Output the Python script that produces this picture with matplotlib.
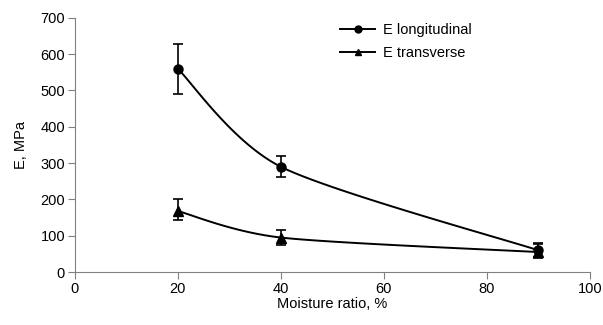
import matplotlib.pyplot as plt
import numpy as np

plt.rcParams['font.family'] = ['Liberation Sans', 'DejaVu Sans']

moisture = [20, 40, 90]
e_long = [560, 290, 60]
e_long_lo = [490, 262, 42]
e_long_hi = [627, 320, 80]
e_trans = [168, 95, 55]
e_trans_lo = [143, 75, 40]
e_trans_hi = [201, 116, 78]


def smooth(x, y, n=60, t=0.4):
    # cardinal spline like the spreadsheet "smoothed line"
    x = np.asarray(x, float)
    y = np.asarray(y, float)
    px = np.concatenate([[x[0]], x, [x[-1]]])
    py = np.concatenate([[y[0]], y, [y[-1]]])
    xs, ys = [], []
    for i in range(1, len(px) - 2):
        p0, p1, p2, p3 = [np.array([px[j], py[j]]) for j in (i - 1, i, i + 1, i + 2)]
        m1 = t * (p2 - p0)
        m2 = t * (p3 - p1)
        s = np.linspace(0, 1, n)[:, None]
        h00 = 2 * s**3 - 3 * s**2 + 1
        h10 = s**3 - 2 * s**2 + s
        h01 = -2 * s**3 + 3 * s**2
        h11 = s**3 - s**2
        pts = h00 * p1 + h10 * m1 + h01 * p2 + h11 * m2
        xs.extend(pts[:, 0])
        ys.extend(pts[:, 1])
    return xs, ys


fig = plt.figure(figsize=(6.03, 3.25), dpi=100)
ax = fig.add_axes([0.124, 0.163, 0.854, 0.782])

for y, lo, hi, mk, ms, lab in [(e_long, e_long_lo, e_long_hi, 'o', 6.5, 'E longitudinal'),
                                (e_trans, e_trans_lo, e_trans_hi, '^', 7.5, 'E transverse')]:
    sx, sy = smooth(moisture, y)
    ax.plot(sx, sy, color='black', lw=1.4)
    yerr = [np.array(y) - np.array(lo), np.array(hi) - np.array(y)]
    ax.errorbar(moisture, y, yerr=yerr, fmt='none', ecolor='black', elinewidth=1.2,
                capsize=3.5, capthick=1.2)
    ax.plot(moisture, y, linestyle='none', marker=mk, ms=ms, color='black')
    ax.plot([], [], color='black', lw=1.4, marker=mk, ms=5, label=lab)

ax.set_xlim(0, 100)
ax.set_ylim(0, 700)
ax.set_xticks(range(0, 101, 20))
ax.set_yticks(range(0, 701, 100))
for s in ['top', 'right']:
    ax.spines[s].set_visible(False)
for s in ['left', 'bottom']:
    ax.spines[s].set_color('#808080')
ax.tick_params(direction='out', length=5, color='#808080', labelsize=10.5, pad=2)
ax.set_xlabel('Moisture ratio, %', fontsize=10.5, labelpad=1)
ax.set_ylabel('E, MPa', fontsize=10.5, labelpad=9)
ax.legend(loc='upper left', bbox_to_anchor=(0.49, 1.03), frameon=False, fontsize=10.5,
          handlelength=2.4, handletextpad=0.5, labelspacing=0.6)

fig.savefig('out.png', dpi=100)
